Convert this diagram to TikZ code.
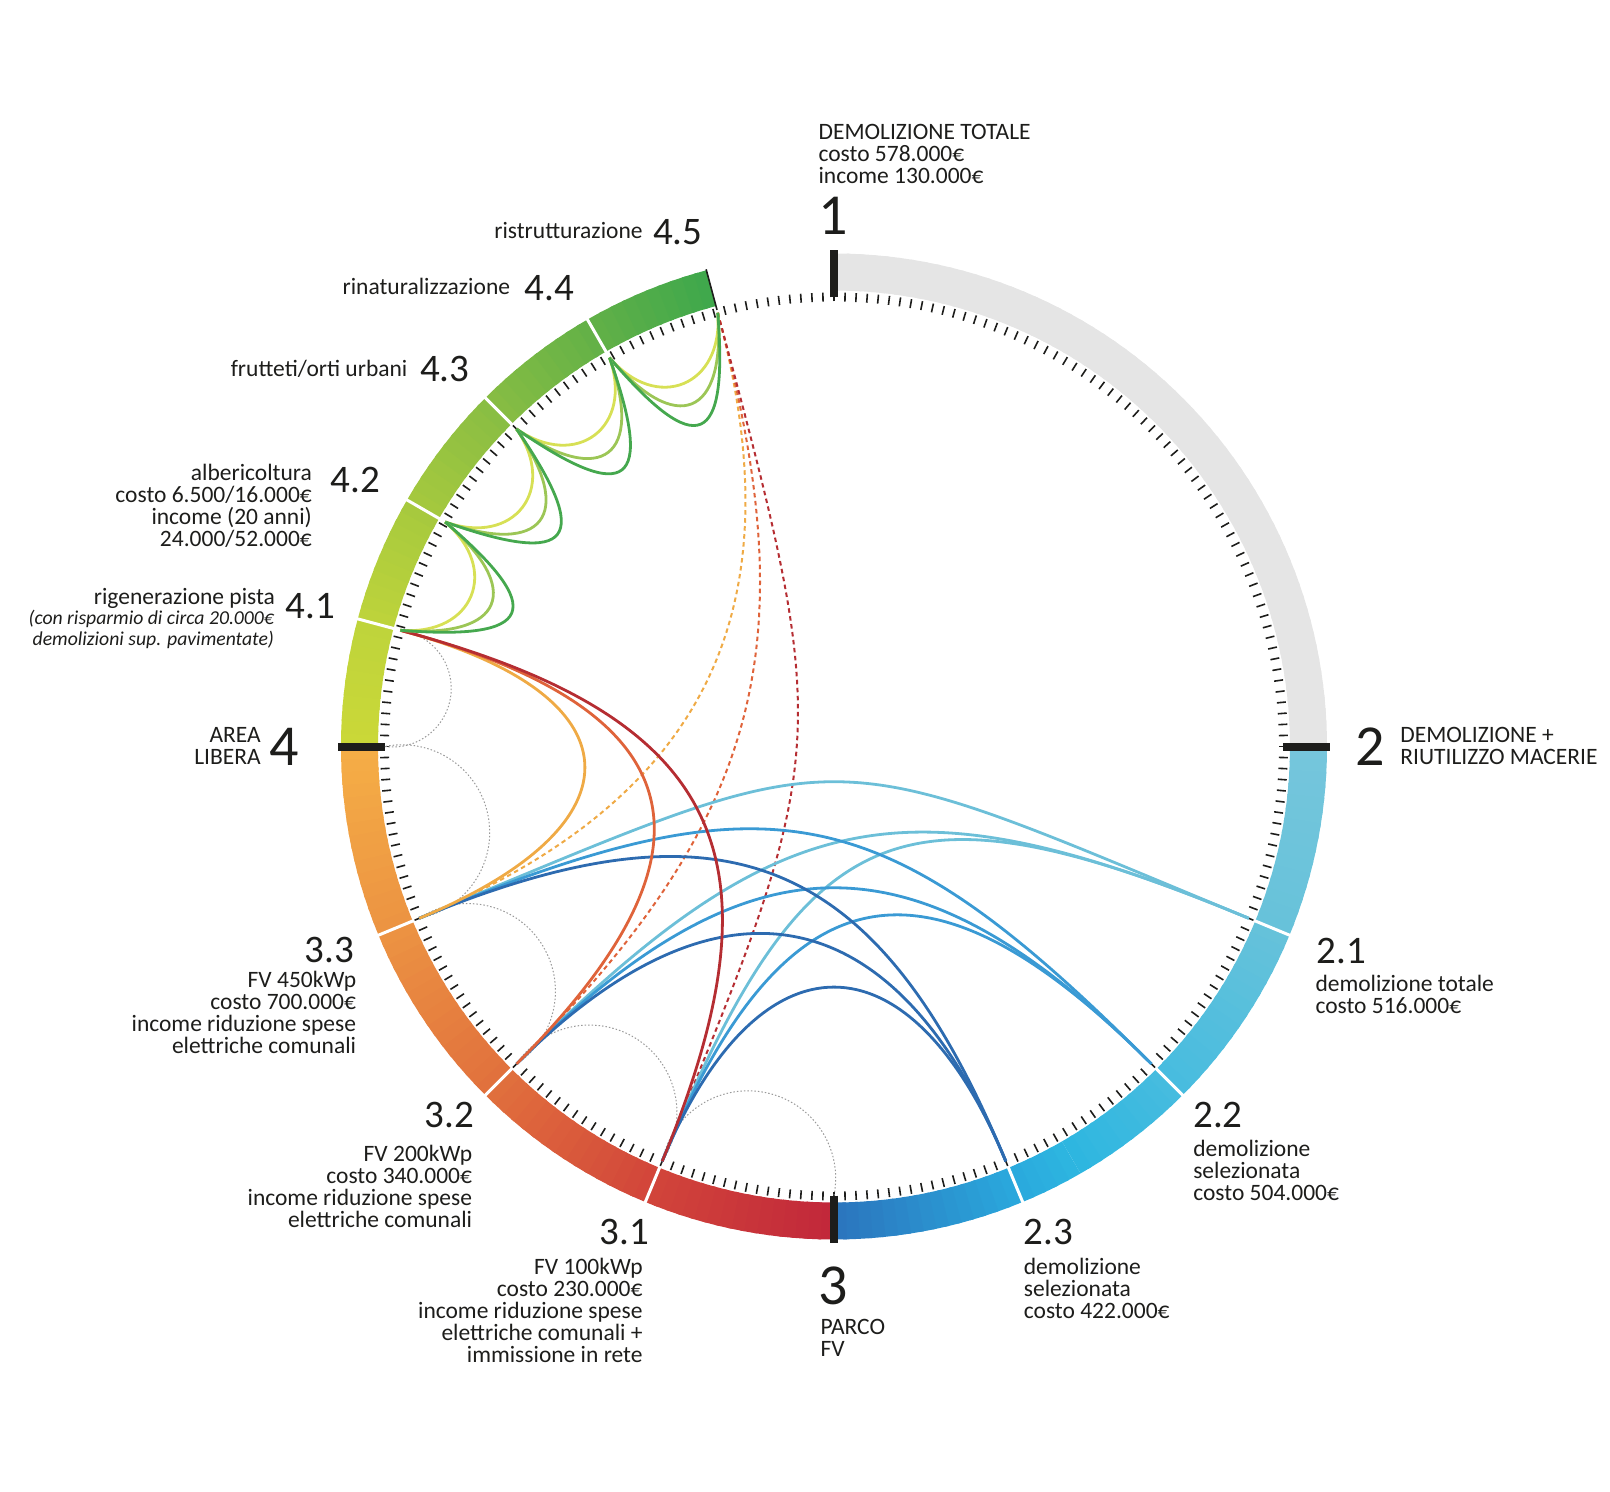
\documentclass[tikz,border=0pt]{standalone}
\usepackage{fontspec}
\setmainfont{Carlito}
\usetikzlibrary{calc,positioning}

\definecolor{ink}{HTML}{1D1D1B}
\definecolor{rGray}{HTML}{E5E5E5}
\definecolor{b0}{HTML}{76C6DC}
\definecolor{b1}{HTML}{66C2DA}
\definecolor{b2}{HTML}{47BCDF}
\definecolor{b3}{HTML}{2DB6E0}
\definecolor{b4}{HTML}{2AA9DD}
\definecolor{b5}{HTML}{2B74BD}
\definecolor{r0}{HTML}{C1273A}
\definecolor{r1}{HTML}{D2453A}
\definecolor{r2}{HTML}{E1703D}
\definecolor{r3}{HTML}{EC9342}
\definecolor{r4}{HTML}{F5AE46}
\definecolor{g0}{HTML}{CBD838}
\definecolor{g1}{HTML}{BED43B}
\definecolor{g2}{HTML}{A6C93E}
\definecolor{g3}{HTML}{88BD43}
\definecolor{g4}{HTML}{62B147}
\definecolor{g5}{HTML}{3EA74C}
\definecolor{cLight}{HTML}{6CBFD8}
\definecolor{cMid}{HTML}{3A9AD4}
\definecolor{cDark}{HTML}{2D6BB0}
\definecolor{cOrange}{HTML}{EFAA45}
\definecolor{cOrRed}{HTML}{DF633A}
\definecolor{cRed}{HTML}{B52D32}
\definecolor{cYel}{HTML}{D7E055}
\definecolor{cOlive}{HTML}{9CC656}
\definecolor{cGreen}{HTML}{45A84E}

\begin{document}
\begin{tikzpicture}[x=1pt,y=1pt,
    lbl/.style={inner sep=0pt,text=ink,font=\fontsize{23.5}{22}\selectfont},
    note/.style={inner sep=0pt,text=ink,font=\itshape\fontsize{19.7}{21.5}\selectfont},
    num/.style={inner sep=0pt,text=ink,font=\fontsize{39}{39}\selectfont},
    bignum/.style={inner sep=0pt,text=ink,font=\fontsize{58}{58}\selectfont},
    tick/.style={ink,line width=1.6pt},
    marker/.style={ink,line width=8pt},
    sep/.style={white,line width=3pt},
    chord/.style={line width=2.8pt},
    dchord/.style={line width=2pt,dash pattern=on 4.5pt off 3.5pt},
    dotline/.style={gray!80,line width=1pt,dash pattern=on 1.5pt off 2pt},
    loopY/.style={cYel,line width=2.8pt},
    loopO/.style={cOlive,line width=2.8pt},
    loopG/.style={cGreen,line width=2.8pt}]
\useasboundingbox (-834,-745.5) rectangle (776,746.5);

% ring with colour runs
\foreach \sa/\sb/\ca/\cb in {90/0/rGray/rGray, 0/-22.5/b0/b1, -22.5/-45/b1/b2,
    -45/-60/b2/b3, -60/-67.5/b3/b4, -67.5/-90/b4/b5,
    -90/-112.5/r0/r1, -112.5/-135/r1/r2, -135/-157.5/r2/r3, -157.5/-180/r3/r4,
    180/165/g0/g1, 165/150/g1/g2, 150/135/g2/g3, 135/120/g3/g4, 120/105/g4/g5}{
  \pgfmathtruncatemacro\nseg{ceil(abs(\sb-\sa)/1.5)}
  \foreach \i in {1,...,\nseg}{
    \pgfmathsetmacro\angA{\sa+(\sb-\sa)*(\i-1)/\nseg}
    \pgfmathsetmacro\angB{\sa+(\sb-\sa)*min(\i+0.3,\nseg)/\nseg}
    \pgfmathsetmacro\pct{100*(\i-0.5)/\nseg}
    \fill[\cb!\pct!\ca] (\angA:493) arc[start angle=\angA,end angle=\angB,radius=493]
      -- (\angB:456) arc[start angle=\angB,end angle=\angA,radius=456] -- cycle;
  }
}
\foreach \a in {-22.5,-45,-67.5,202.5,225,247.5,165,150,135,120}
  \draw[sep] (\a:454) -- (\a:495);
\draw[ink,line width=1.6pt] (105:452) -- (105:494);

% ticks and markers
\foreach \i in {0,...,255}
  \draw[tick] ({\i*1.40625}:445) -- ({\i*1.40625}:454);
\foreach \a in {0,90,180,270}
  \draw[marker] (\a:449) -- (\a:496);

% positions
\coordinate (O) at (0,0);
\coordinate (p45) at (105:449);
\coordinate (p44) at (120:449);
\coordinate (p43) at (135:449);
\coordinate (p42) at (150:449);
\coordinate (p41) at (165:449);
\coordinate (p4) at (180:449);
\coordinate (p33) at (202.5:449);
\coordinate (p32) at (225:449);
\coordinate (p31) at (247.5:449);
\coordinate (p3) at (270:449);
\coordinate (p23) at (292.5:449);
\coordinate (p22) at (315:449);
\coordinate (p21) at (337.5:449);

% dotted half circles
\draw[dotline] (p4) arc[start angle=262.5,end angle=442.5,radius=58.6];
\draw[dotline] (p33) arc[start angle=281.25,end angle=461.25,radius=87.6];
\draw[dotline] (p32) arc[start angle=303.75,end angle=483.75,radius=87.6];
\draw[dotline] (p31) arc[start angle=326.25,end angle=506.25,radius=87.6];
\draw[dotline] (p3) arc[start angle=348.75,end angle=528.75,radius=87.6];

% dashed links from 4.5
\foreach \a/\b/\k/\col in {45/33/0.69/cOrange, 45/32/0.77/cOrRed, 45/31/0.99/cRed}
  \draw[dchord,\col] (p\a) .. controls ($(p\a)!\k!(O)$) and ($(p\b)!\k!(O)$) .. (p\b);

% links 3.x -- 2.x
\foreach \a/\b/\k/\col in {33/21/1.06/cLight, 32/21/0.83/cLight, 31/21/0.84/cLight,
    33/22/0.85/cMid, 32/22/0.74/cMid, 31/22/0.71/cMid,
    33/23/0.74/cDark, 32/23/0.64/cDark, 31/23/0.56/cDark}
  \draw[chord,\col] (p\a) .. controls ($(p\a)!\k!(O)$) and ($(p\b)!\k!(O)$) .. (p\b);

% links from 4.1
\foreach \a/\b/\k/\col in {41/33/0.55/cOrange, 41/32/0.68/cOrRed, 41/31/0.74/cRed}
  \draw[chord,\col] (p\a) .. controls ($(p\a)!\k!(O)$) and ($(p\b)!\k!(O)$) .. (p\b);

% loops between neighbours of area 4
\foreach \l/\r/\ang in {44/45/120, 43/44/135, 42/43/150, 41/42/165}{
  \pgfmathsetmacro\aout{\ang+190.5}
  \pgfmathsetmacro\ain{\ang+154.5}
  \draw[loopY] (p\l) to[out=\aout,in=\ain,looseness=1.6] (p\r);
  \draw[loopO] (p\l) to[out=\aout,in=\ain,looseness=2.27] (p\r);
  \draw[loopG] (p\l) to[out=\aout,in=\ain,looseness=2.95] (p\r);
}

% labels (base = last line)
\node[lbl,anchor=base west,align=left] (t1) at (-15.6,562.9)
  {DEMOLIZIONE TOTALE\\costo 578.000€\\income 130.000€};
\node[bignum,anchor=base] (n1) at (-1,512.4) {1};
\node[bignum,anchor=base west] (n2) at (521.4,-18.5) {2};
\node[lbl,align=left] (t2) [right=15pt of n2] {DEMOLIZIONE +\\RIUTILIZZO MACERIE};
\node[bignum,anchor=base] (n3) at (-0.8,-557.5) {3};
\node[lbl,anchor=base west,align=left] (t3) at (-13.6,-610.3) {PARCO\\FV};
\node[bignum,anchor=base east] (n4) at (-535.2,-18.5) {4};
\node[lbl,align=right] (t4) [left=8pt of n4] {AREA\\LIBERA};

\node[lbl,anchor=base east] (t45) at (-191.2,508.3) {ristrutturazione};
\node[num,anchor=base west] (n45) at (-181,502) {4.5};
\node[lbl,anchor=base east] (t44) at (-323.7,451.8) {rinaturalizzazione};
\node[num,anchor=base west] (n44) at (-309.3,445.6) {4.4};
\node[lbl,anchor=base east] (t43) at (-426.4,369.7) {frutteti/orti urbani};
\node[num,anchor=base west] (n43) at (-414,364.5) {4.3};
\node[lbl,anchor=base east,align=right] (t42) at (-521.9,200)
  {albericoltura\\costo 6.500/16.000€\\income (20 anni)\\24.000/52.000€};
\node[num,anchor=base west] (n42) at (-503.4,253.6) {4.2};
\node[lbl,anchor=base east] (t41) at (-558.8,141.7) {rigenerazione pista};
\node[note,anchor=base east,align=right] (t41b) at (-559.8,100.7)
  {(con risparmio di circa 20.000€\\demolizioni sup. pavimentate)};
\node[num,anchor=base west] (n41) at (-548.6,128.4) {4.1};

\node[num,anchor=base east] (n33) at (-479.8,-215.5) {3.3};
\node[lbl,anchor=base east,align=right] (t33) at (-477.7,-307.3)
  {FV 450kWp\\costo 700.000€\\income riduzione spese\\elettriche comunali};
\node[num,anchor=base east] (n32) at (-359.6,-381) {3.2};
\node[lbl,anchor=base east,align=right] (t32) at (-361.7,-480.8)
  {FV 200kWp\\costo 340.000€\\income riduzione spese\\elettriche comunali};
\node[num,anchor=base east] (n31) at (-185,-497.5) {3.1};
\node[lbl,anchor=base east,align=right] (t31) at (-191.2,-615.8)
  {FV 100kWp\\costo 230.000€\\income riduzione spese\\elettriche comunali +\\immissione in rete};

\node[num,anchor=base west] (n21) at (482.4,-217) {2.1};
\node[lbl,anchor=base west,align=left] (t21) at (481.3,-267.4)
  {demolizione totale\\costo 516.000€};
\node[num,anchor=base west] (n22) at (359.1,-381) {2.2};
\node[lbl,anchor=base west,align=left] (t22) at (359.1,-453.7)
  {demolizione\\selezionata\\costo 504.000€};
\node[num,anchor=base west] (n23) at (189.7,-497.5) {2.3};
\node[lbl,anchor=base west,align=left] (t23) at (189.7,-571.8)
  {demolizione\\selezionata\\costo 422.000€};
\end{tikzpicture}
\end{document}
